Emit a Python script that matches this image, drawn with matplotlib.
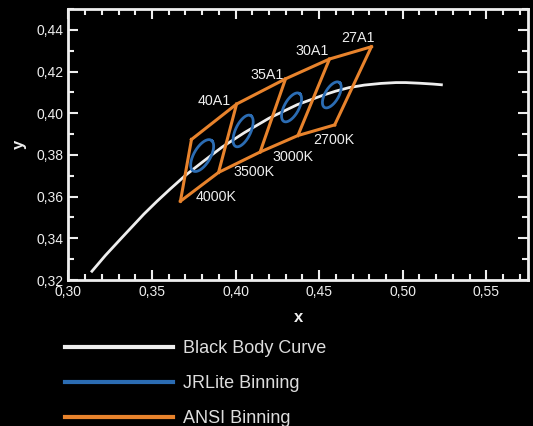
import numpy as np
import matplotlib
matplotlib.use('Agg')
import matplotlib.pyplot as plt
from matplotlib.lines import Line2D
from matplotlib.ticker import MultipleLocator

plt.rcParams['font.family'] = ['Liberation Sans', 'DejaVu Sans']

# black body (planckian) curve, 6500K -> 2000K
bb_x = [0.3135, 0.3221, 0.3325, 0.3451, 0.3530, 0.3608, 0.3700, 0.3805, 0.3920, 0.4053, 0.4200,
        0.4369, 0.4526, 0.4599, 0.4680, 0.4770, 0.4870, 0.4960, 0.5018, 0.5100, 0.5180, 0.5240]
bb_y = [0.3237, 0.3318, 0.3408, 0.3516, 0.3578, 0.3636, 0.3702, 0.3768, 0.3838, 0.3907, 0.3976,
        0.4041, 0.4087, 0.4106, 0.4123, 0.4135, 0.4143, 0.4147, 0.4147, 0.4144, 0.4140, 0.4136]

# ANSI quadrangle edges (bottom point, top point) from 4000K side to 2700K side
edge_bot_x = [0.3670, 0.3898, 0.4147, 0.4373, 0.4593]
edge_bot_y = [0.3578, 0.3716, 0.3814, 0.3893, 0.3944]
edge_top_x = [0.3736, 0.4006, 0.4299, 0.4562, 0.4813]
edge_top_y = [0.3874, 0.4044, 0.4165, 0.4260, 0.4319]

cct_labels = ['4000K', '3500K', '3000K', '2700K']
cct_x = [0.3881, 0.4108, 0.4341, 0.4586]
cct_y = [0.3598, 0.3716, 0.3790, 0.3872]
bin_labels = ['40A1', '35A1', '30A1', '27A1']
bin_x = [0.3875, 0.4186, 0.4461, 0.4730]
bin_y = [0.4059, 0.4184, 0.4299, 0.4362]

# JRLite ellipses: centre, semi axes, angle (deg)
ell_cx = [0.3800, 0.4045, 0.4335, 0.4576]
ell_cy = [0.3797, 0.3915, 0.4028, 0.4088]
ell_a = [0.0092, 0.0087, 0.0082, 0.0075]
ell_b = [0.0046, 0.0043, 0.0041, 0.0038]
ell_ang = [50, 56, 52, 50]

white = '#eeeeee'
orange = '#e8832c'
blue = '#2b6cb3'

fig = plt.figure(figsize=(5.33, 4.26), dpi=100)
fig.patch.set_facecolor('black')
ax = fig.add_axes([0.1285, 0.3427, 0.8621, 0.6362])
ax.set_facecolor('black')

ax.plot(bb_x, bb_y, color=white, lw=2, solid_capstyle='butt')

# ANSI bins
ax.plot(edge_bot_x, edge_bot_y, color=orange, lw=2.2)
ax.plot(edge_top_x, edge_top_y, color=orange, lw=2.2)
for i in range(len(edge_bot_x)):
    ax.plot([edge_bot_x[i], edge_top_x[i]], [edge_bot_y[i], edge_top_y[i]], color=orange, lw=2.2)

t = np.linspace(0, 2 * np.pi, 200)
for cx, cy, a, b, ang in zip(ell_cx, ell_cy, ell_a, ell_b, ell_ang):
    th = np.radians(ang)
    ex = cx + a * np.cos(t) * np.cos(th) - b * np.sin(t) * np.sin(th)
    ey = cy + a * np.cos(t) * np.sin(th) + b * np.sin(t) * np.cos(th)
    ax.plot(ex, ey, color=blue, lw=2)

# labels
for lab, x, y in zip(cct_labels, cct_x, cct_y):
    ax.text(x, y, lab, color=white, fontsize=10.3, ha='center', va='center')
for lab, x, y in zip(bin_labels, bin_x, bin_y):
    ax.text(x, y, lab, color=white, fontsize=10.3, ha='center', va='center')

ax.set_xlim(0.30, 0.575)
ax.set_ylim(0.32, 0.45)
ax.xaxis.set_major_locator(MultipleLocator(0.05))
ax.xaxis.set_minor_locator(MultipleLocator(0.01))
ax.yaxis.set_major_locator(MultipleLocator(0.02))
ax.yaxis.set_minor_locator(MultipleLocator(0.01))
fmt = lambda v, p: ('%.2f' % v).replace('.', ',')
ax.xaxis.set_major_formatter(plt.FuncFormatter(fmt))
ax.yaxis.set_major_formatter(plt.FuncFormatter(fmt))
ax.tick_params(which='both', direction='in', top=True, right=True, colors=white,
               labelcolor=white, labelsize=10, width=1.5)
ax.tick_params(which='major', length=7)
ax.tick_params(which='minor', length=4)
for s in ax.spines.values():
    s.set_color(white)
    s.set_linewidth(2)

ax.set_xlabel('x', color=white, fontsize=12, fontweight='bold', labelpad=8)
ax.set_ylabel('y', color=white, fontsize=12, fontweight='bold', labelpad=7)

handles = [Line2D([], [], color=white, lw=3),
           Line2D([], [], color=blue, lw=3),
           Line2D([], [], color=orange, lw=3)]
names = ['Black Body Curve', 'JRLite Binning', 'ANSI Binning']
leg = fig.legend(handles, names, loc='upper left', bbox_to_anchor=(0.122, 0.201),
                 frameon=False, fontsize=13, handlelength=6.0, handletextpad=0.55,
                 labelspacing=1.0, borderaxespad=0, borderpad=0)
for txt in leg.get_texts():
    txt.set_color('#dddddd')

fig.savefig('out.png', dpi=100, facecolor='black')
